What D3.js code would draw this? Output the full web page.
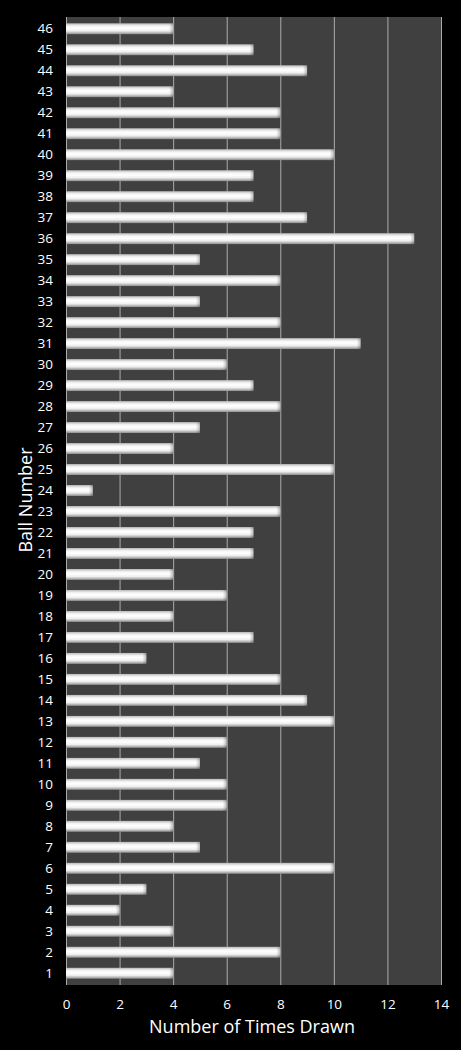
<!DOCTYPE html>
<html><head><meta charset="utf-8">
<script src="https://cdn.jsdelivr.net/npm/d3@7"></script>
<style>html,body{margin:0;padding:0;background:#000;}svg{display:block;}</style>
</head><body>
<script>
const balls = d3.range(1, 47).map(String);
const timesDrawn = [4,8,4,2,3,10,5,4,6,6,5,6,10,9,8,3,7,4,6,4,7,7,8,1,10,4,5,8,7,6,11,8,5,8,5,13,9,7,7,10,8,8,4,9,7,4];
const xTicks = [0,2,4,6,8,10,12,14];
const xTitle = "Number of Times Drawn";
const yTitle = "Ball Number";

const W = 461, H = 1050;
const m = {left: 66, right: 20, top: 17, bottom: 65};
const svg = d3.select("body").append("svg").attr("width", W).attr("height", H);
svg.append("rect").attr("width", W).attr("height", H).attr("fill", "#000");

const defs = svg.append("defs");
const g = defs.append("linearGradient").attr("id","barg").attr("x1",0).attr("y1",0).attr("x2",0).attr("y2",1);
[[0,"#b8b8b8"],[0.25,"#f4f4f4"],[0.45,"#ffffff"],[0.7,"#eeeeee"],[1,"#8e8e8e"]].forEach(([o,c])=>g.append("stop").attr("offset",o).attr("stop-color",c));
const gc = defs.append("linearGradient").attr("id","capg").attr("x1",0).attr("y1",0).attr("x2",1).attr("y2",0);
[[0,"rgba(0,0,0,0)"],[1,"rgba(0,0,0,0.25)"]].forEach(([o,c])=>gc.append("stop").attr("offset",o).attr("stop-color",c));

const x = d3.scaleLinear().domain([0,14]).range([m.left, W - m.right]);
const y = d3.scaleBand().domain(balls.slice().reverse()).range([m.top, H - m.bottom]).paddingInner(0.48).paddingOuter(0.3);

svg.append("rect").attr("x", x(0)).attr("y", m.top).attr("width", x(14)-x(0)).attr("height", H - m.bottom - m.top).attr("fill", "#404040");

svg.append("g").selectAll("line").data(xTicks).join("line")
  .attr("x1", d=>x(d)+0.5).attr("x2", d=>x(d)+0.5)
  .attr("y1", m.top).attr("y2", H - m.bottom)
  .attr("stroke", "#ababab").attr("stroke-width", 1);

const bars = svg.append("g").selectAll("g").data(balls).join("g");
bars.append("rect")
  .attr("x", x(0)).attr("y", (d)=>y(d))
  .attr("width", (d,i)=>x(timesDrawn[i]) - x(0))
  .attr("height", y.bandwidth())
  .attr("fill", "url(#barg)");
bars.append("rect")
  .attr("x", (d,i)=>x(timesDrawn[i]) - 4).attr("y", d=>y(d))
  .attr("width", 4).attr("height", y.bandwidth())
  .attr("fill", "url(#capg)");

const font = "'Open Sans', 'DejaVu Sans', sans-serif";
const yAxis = svg.append("g").attr("transform", `translate(${m.left},0)`)
  .call(d3.axisLeft(y).tickSize(0).tickPadding(13));
yAxis.select(".domain").remove();
yAxis.selectAll("text").attr("fill", "#fff").attr("font-size", 13.5).attr("font-family", font);

const xAxis = svg.append("g").attr("transform", `translate(0,${H - m.bottom})`)
  .call(d3.axisBottom(x).tickValues(xTicks).tickSize(0).tickPadding(14));
xAxis.select(".domain").remove();
xAxis.selectAll("text").attr("fill", "#fff").attr("font-size", 13.5).attr("font-family", font);

svg.append("text").attr("x", 252).attr("y", 1033)
  .attr("text-anchor", "middle").attr("fill", "#fff").attr("font-size", 18).attr("font-family", font).text(xTitle);
svg.append("text").attr("transform", `translate(32,500) rotate(-90)`)
  .attr("text-anchor", "middle").attr("fill", "#fff").attr("font-size", 18).attr("font-family", font).text(yTitle);
</script>
</body></html>
